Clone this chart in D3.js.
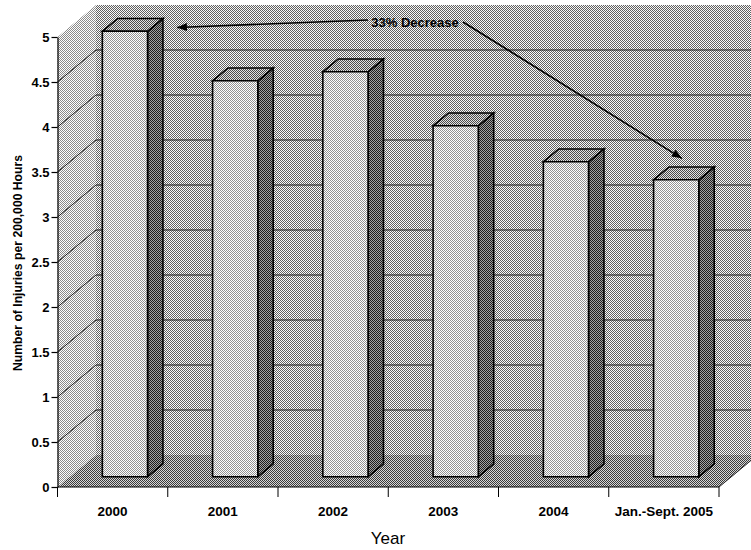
<!DOCTYPE html>
<html>
<head>
<meta charset="utf-8">
<script src="https://cdn.jsdelivr.net/npm/d3@7"></script>
<style>
  html, body { margin: 0; padding: 0; background: #fff; }
  svg { display: block; font-family: "Liberation Sans", Arial, sans-serif; }
</style>
</head>
<body>
<svg id="chart" width="751" height="550"></svg>
<script>
// Injury rate by year (3-D column chart)
const categories = ["2000", "2001", "2002", "2003", "2004", "Jan.-Sept. 2005"];
const injuryRates = [4.95, 4.4, 4.5, 3.9, 3.5, 3.3];
const yTickValues = [0, 0.5, 1, 1.5, 2, 2.5, 3, 3.5, 4, 4.5, 5];
const yTitle = "Number of Injuries per 200,000 Hours";
const xTitle = "Year";
const annotationText = "33% Decrease";

const svg = d3.select("#chart");

// front plane of the 3-D box
const x = d3.scaleBand().domain(categories).range([57.5, 719]).paddingInner(0).paddingOuter(0);
const y = d3.scaleLinear().domain([0, 5]).range([487, 37]);

// depth vector of the box, and where the columns sit within it
const depthDX = 38.5, depthDY = -32;
const barD0 = 0.32, barD1 = 0.72;
const barFrac = 0.41;

const project = (px, v, d) => [px + d * depthDX, y(v) + d * depthDY];
const poly = pts => pts.map(p => p.join(",")).join(" ");

// halftone-like dither fills
const defs = svg.append("defs");
function dither(id, light, dark) {
  const p = defs.append("pattern").attr("id", id)
    .attr("patternUnits", "userSpaceOnUse").attr("width", 2).attr("height", 2);
  p.append("rect").attr("width", 2).attr("height", 2).attr("fill", light);
  p.append("rect").attr("x", 0).attr("y", 0).attr("width", 1).attr("height", 1).attr("fill", dark);
  p.append("rect").attr("x", 1).attr("y", 1).attr("width", 1).attr("height", 1).attr("fill", dark);
}
dither("backWall", "#fafafa", "#606060");
dither("sideWall", "#ffffff", "#8a8a8a");
dither("floor", "#d6d6d6", "#3a3a3a");
dither("barFront", "#ffffff", "#929292");
dither("barTop", "#e2e2e2", "#4a4a4a");
dither("barSide", "#a2a2a2", "#1c1c1c");

const marker = defs.append("marker").attr("id", "arrowHead")
  .attr("viewBox", "0 0 10 8").attr("refX", 10).attr("refY", 4)
  .attr("markerWidth", 10).attr("markerHeight", 8)
  .attr("markerUnits", "userSpaceOnUse").attr("orient", "auto");
marker.append("path").attr("d", "M0,0 L10,4 L0,8 Z").attr("fill", "#000");

const xL = x.range()[0], xR = x.range()[1];
const vMax = y.domain()[1];

// walls and floor
svg.append("polygon").attr("fill", "url(#backWall)")
  .attr("points", poly([project(xL, vMax, 1), project(xR, vMax, 1), project(xR, 0, 1), project(xL, 0, 1)]));
svg.append("polygon").attr("fill", "url(#sideWall)")
  .attr("points", poly([project(xL, 0, 0), project(xL, vMax, 0), project(xL, vMax, 1), project(xL, 0, 1)]));
svg.append("polygon").attr("fill", "url(#floor)")
  .attr("points", poly([project(xL, 0, 0), project(xR, 0, 0), project(xR, 0, 1), project(xL, 0, 1)]));

// gridlines on the back wall and side wall
const grid = svg.append("g").attr("stroke", "#1a1a1a").attr("stroke-width", 1).attr("fill", "none");
yTickValues.filter(v => v > 0 && v < vMax).forEach(v => {
  grid.append("polyline").attr("points", poly([project(xL, v, 0), project(xL, v, 1), project(xR, v, 1)]));
});
// right edge of the floor
svg.append("line").attr("stroke", "#222").attr("stroke-width", 1)
  .attr("x1", project(xR, 0, 0)[0]).attr("y1", project(xR, 0, 0)[1])
  .attr("x2", project(xR, 0, 1)[0]).attr("y2", project(xR, 0, 1)[1]);

// columns
const bars = svg.append("g").attr("stroke", "#000").attr("stroke-width", 1.6).attr("stroke-linejoin", "miter");
categories.forEach((c, i) => {
  const v = injuryRates[i];
  const bw = x.bandwidth() * barFrac;
  const x0 = x(c) + (x.bandwidth() - bw) / 2;
  const x1 = x0 + bw;
  const g = bars.append("g");
  g.append("polygon").attr("fill", "url(#barSide)")
    .attr("points", poly([project(x1, 0, barD0), project(x1, v, barD0), project(x1, v, barD1), project(x1, 0, barD1)]));
  g.append("polygon").attr("fill", "url(#barTop)")
    .attr("points", poly([project(x0, v, barD0), project(x1, v, barD0), project(x1, v, barD1), project(x0, v, barD1)]));
  g.append("polygon").attr("fill", "url(#barFront)")
    .attr("points", poly([project(x0, 0, barD0), project(x0, v, barD0), project(x1, v, barD0), project(x1, 0, barD0)]));
});

// value axis
const yAxis = svg.append("g").attr("transform", `translate(${xL},0)`)
  .call(d3.axisLeft(y).tickValues(yTickValues).tickSize(6).tickSizeOuter(0).tickPadding(2).tickFormat(d => String(d)));
yAxis.select(".domain").attr("stroke", "#000").attr("stroke-width", 1.2);
yAxis.selectAll(".tick line").attr("stroke", "#000").attr("stroke-width", 1.2);
yAxis.selectAll(".tick text").attr("font-size", 13).attr("font-weight", "bold")
  .attr("font-family", "Liberation Sans, Arial, sans-serif").attr("fill", "#000");

// category axis: boundary ticks and centred labels
const xAxis = svg.append("g");
xAxis.append("line").attr("x1", xL).attr("x2", xR).attr("y1", y(0)).attr("y2", y(0))
  .attr("stroke", "#000").attr("stroke-width", 1.2);
const bounds = categories.map(c => x(c)).concat([xR]);
xAxis.selectAll("line.tick").data(bounds).join("line").attr("class", "tick")
  .attr("x1", d => d).attr("x2", d => d).attr("y1", y(0)).attr("y2", y(0) + 10)
  .attr("stroke", "#000").attr("stroke-width", 1);
xAxis.selectAll("text").data(categories).join("text")
  .attr("x", d => x(d) + x.bandwidth() / 2).attr("y", y(0) + 29)
  .attr("text-anchor", "middle").attr("font-size", 13.5).attr("font-weight", "bold").text(d => d);

// axis titles
svg.append("text").attr("transform", "translate(22,263) rotate(-90)")
  .attr("text-anchor", "middle").attr("font-size", 12.2).attr("font-weight", "bold").text(yTitle);
svg.append("text").attr("x", 388).attr("y", 544)
  .attr("text-anchor", "middle").attr("font-size", 17).text(xTitle);

// annotation: change from the first to the last period
const firstBarW = x.bandwidth() * barFrac;
const firstX1 = x(categories[0]) + (x.bandwidth() + firstBarW) / 2;
const lastX0 = x(categories[categories.length - 1]) + (x.bandwidth() - firstBarW) / 2;
const leftTip = project(firstX1, injuryRates[0], barD1);
const lastTop = project(lastX0 + firstBarW / 2, injuryRates[injuryRates.length - 1], (barD0 + barD1) / 2);
const note = svg.append("g");
note.append("text").attr("x", 415).attr("y", 27).attr("text-anchor", "middle")
  .attr("font-size", 13).attr("font-weight", "bold").text(annotationText);
note.append("line").attr("x1", 368).attr("y1", 20).attr("x2", leftTip[0] + 14).attr("y2", leftTip[1] + 9)
  .attr("stroke", "#000").attr("stroke-width", 1.6).attr("marker-end", "url(#arrowHead)");
note.append("line").attr("x1", 463).attr("y1", 22).attr("x2", lastTop[0] - 2).attr("y2", lastTop[1] - 15)
  .attr("stroke", "#000").attr("stroke-width", 1.6).attr("marker-end", "url(#arrowHead)");
</script>
</body>
</html>
